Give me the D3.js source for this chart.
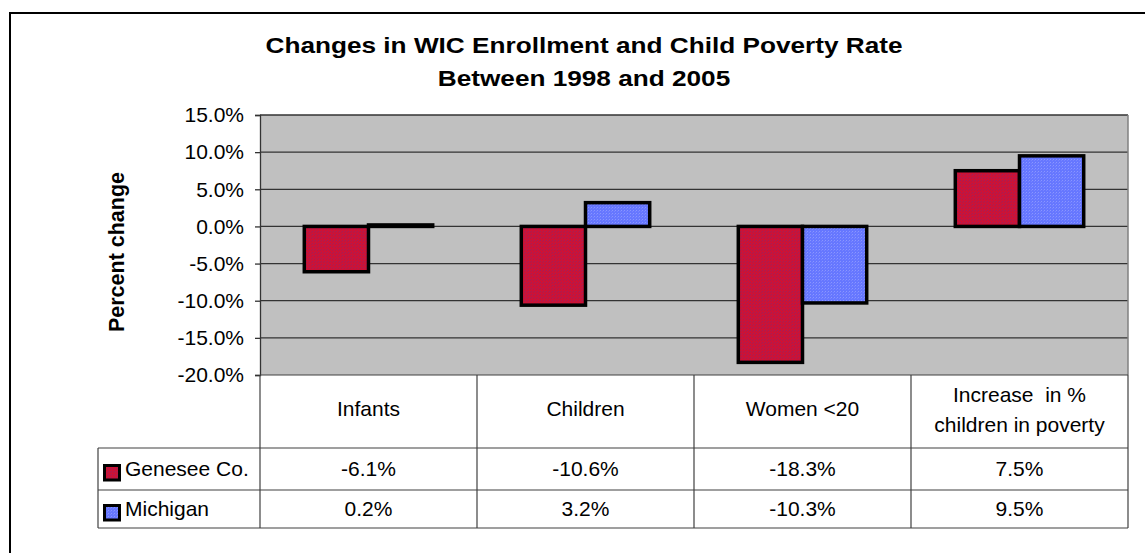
<!DOCTYPE html>
<html>
<head>
<meta charset="utf-8">
<script src="https://cdn.jsdelivr.net/npm/d3@7"></script>
<style>
  body { margin: 0; background: #fff; }
  text { font-family: Arial, "Liberation Sans", sans-serif; }
</style>
</head>
<body>
<svg id="chart"></svg>
<script>
var categories = ["Infants", "Children", "Women <20", "Increase  in %\nchildren in poverty"];
var seriesNames = ["Genesee Co.", "Michigan"];
var genesee = [-6.1, -10.6, -18.3, 7.5];
var michigan = [0.2, 3.2, -10.3, 9.5];
var yTicks = [15, 10, 5, 0, -5, -10, -15, -20];

var w = 1145, h = 553;
var plotLeft = 260, plotRight = 1128, plotTop = 115, plotBottom = 375;
var row1 = 448, row2 = 490, tableBottom = 528, legendLeft = 98;
var fs = "21px";

var svg = d3.select("#chart").attr("width", w).attr("height", h);

// hatch patterns like the excel fills
var defs = svg.append("defs");
var pRed = defs.append("pattern").attr("id", "redfill")
  .attr("width", 3).attr("height", 3).attr("patternUnits", "userSpaceOnUse");
pRed.append("rect").attr("width", 3).attr("height", 3).attr("fill", "#cc1236");
pRed.append("rect").attr("x", 0).attr("y", 0).attr("width", 1).attr("height", 1).attr("fill", "#a0205a");
pRed.append("rect").attr("x", 2).attr("y", 1).attr("width", 1).attr("height", 1).attr("fill", "#b01a4a");
var pBlue = defs.append("pattern").attr("id", "bluefill")
  .attr("width", 3).attr("height", 3).attr("patternUnits", "userSpaceOnUse");
pBlue.append("rect").attr("width", 3).attr("height", 3).attr("fill", "#6677ff");
pBlue.append("rect").attr("x", 0).attr("y", 0).attr("width", 1).attr("height", 1).attr("fill", "#8a96ff");
pBlue.append("rect").attr("x", 2).attr("y", 1).attr("width", 1).attr("height", 1).attr("fill", "#7885ff");
var fills = ["url(#redfill)", "url(#bluefill)"];

// outer chart frame (runs off the right / bottom)
svg.append("rect")
  .attr("x", 10).attr("y", 13).attr("width", w).attr("height", h)
  .attr("fill", "none").attr("stroke", "#000").attr("stroke-width", 2);

var x0 = d3.scaleBand().domain(d3.range(categories.length)).range([plotLeft, plotRight]);
var x1 = d3.scaleBand().domain(d3.range(seriesNames.length)).range([0, x0.bandwidth()]).paddingOuter(0.69);
var y = d3.scaleLinear().domain([-20, 15]).range([plotBottom, plotTop]);

svg.append("rect")
  .attr("x", plotLeft).attr("y", plotTop)
  .attr("width", plotRight - plotLeft).attr("height", plotBottom - plotTop)
  .attr("fill", "#c0c0c0");

// gridlines
svg.append("g").selectAll("line")
  .data(yTicks.filter(function(d){ return d > -20; }))
  .enter().append("line")
  .attr("x1", plotLeft).attr("x2", plotRight)
  .attr("y1", function(d){ return y(d); }).attr("y2", function(d){ return y(d); })
  .attr("stroke", "#333").attr("stroke-width", 1.3);

svg.append("line")
  .attr("x1", plotRight).attr("x2", plotRight).attr("y1", plotTop).attr("y2", plotBottom)
  .attr("stroke", "#808080").attr("stroke-width", 1.5);

var yAxis = d3.axisLeft(y).tickValues(yTicks).tickSize(5).tickPadding(11)
  .tickFormat(function(d){ return d.toFixed(1) + "%"; });
var yg = svg.append("g")
  .attr("transform", "translate(" + plotLeft + ",0)")
  .call(yAxis);
yg.select(".domain").attr("stroke", "#333").attr("stroke-width", 1.3);
yg.selectAll(".tick line").attr("stroke", "#333").attr("stroke-width", 1.3);
yg.selectAll(".tick text").attr("font-size", fs).attr("fill", "#000")
  .attr("font-family", "Arial, 'Liberation Sans', sans-serif");

svg.append("text")
  .attr("transform", "translate(124," + 252 + ") rotate(-90)")
  .attr("text-anchor", "middle")
  .attr("font-size", "21.5px").attr("font-weight", "bold")
  .text("Percent change");

// bars
var allSeries = [genesee, michigan];
allSeries.forEach(function(vals, s){
  svg.append("g").selectAll("rect")
    .data(vals)
    .enter().append("rect")
    .attr("x", function(d, i){ return x0(i) + x1(s); })
    .attr("width", x1.bandwidth())
    .attr("y", function(d){ return y(Math.max(0, d)); })
    .attr("height", function(d){ return Math.abs(y(d) - y(0)); })
    .attr("fill", fills[s])
    .attr("stroke", "#000").attr("stroke-width", 3.5);
});

// title (excel stretched it a bit wider than plain bold arial)
var title = svg.append("g").attr("transform", "translate(584,0) scale(1.19,1)")
  .append("text").attr("font-size", "22px").attr("font-weight", "bold")
  .attr("text-anchor", "middle");
title.append("tspan").attr("x", 0).attr("y", 53).text("Changes in WIC Enrollment and Child Poverty Rate");
title.append("tspan").attr("x", 0).attr("y", 86).text("Between 1998 and 2005");

// data table
var tg = svg.append("g").attr("stroke", "#404040").attr("stroke-width", 1.2);
tg.append("line").attr("x1", plotLeft).attr("x2", plotRight).attr("y1", plotBottom).attr("y2", plotBottom);
[row1, row2, tableBottom].forEach(function(yy){
  tg.append("line").attr("x1", legendLeft).attr("x2", plotRight).attr("y1", yy).attr("y2", yy);
});
tg.append("line").attr("x1", legendLeft).attr("x2", legendLeft).attr("y1", row1).attr("y2", tableBottom);
d3.range(categories.length + 1).forEach(function(i){
  var xx = i < categories.length ? x0(i) : plotRight;
  tg.append("line").attr("x1", xx).attr("x2", xx).attr("y1", plotBottom).attr("y2", tableBottom);
});

categories.forEach(function(c, i){
  var lines = c.split("\n");
  var cx = x0(i) + x0.bandwidth() / 2;
  var t = svg.append("text").attr("font-size", fs).attr("text-anchor", "middle");
  var startY = lines.length === 1 ? 416 : 402;
  lines.forEach(function(l, k){
    t.append("tspan").attr("x", cx).attr("y", startY + k * 30).attr("xml:space", "preserve").text(l);
  });
});

var rowY = [row1, row2];
allSeries.forEach(function(vals, s){
  var base = rowY[s];
  svg.append("rect")
    .attr("x", 104.5).attr("y", base + 17.5 - s * 2).attr("width", 15).attr("height", 14.5)
    .attr("fill", fills[s]).attr("stroke", "#000").attr("stroke-width", 3);
  svg.append("text").attr("x", 125).attr("y", base + 28 - s * 2)
    .attr("font-size", fs).text(seriesNames[s]);
  svg.append("g").selectAll("text")
    .data(vals)
    .enter().append("text")
    .attr("x", function(d, i){ return x0(i) + x0.bandwidth() / 2; })
    .attr("y", base + 28 - s * 2)
    .attr("text-anchor", "middle")
    .attr("font-size", fs)
    .text(function(d){ return d.toFixed(1) + "%"; });
});
</script>
</body>
</html>
